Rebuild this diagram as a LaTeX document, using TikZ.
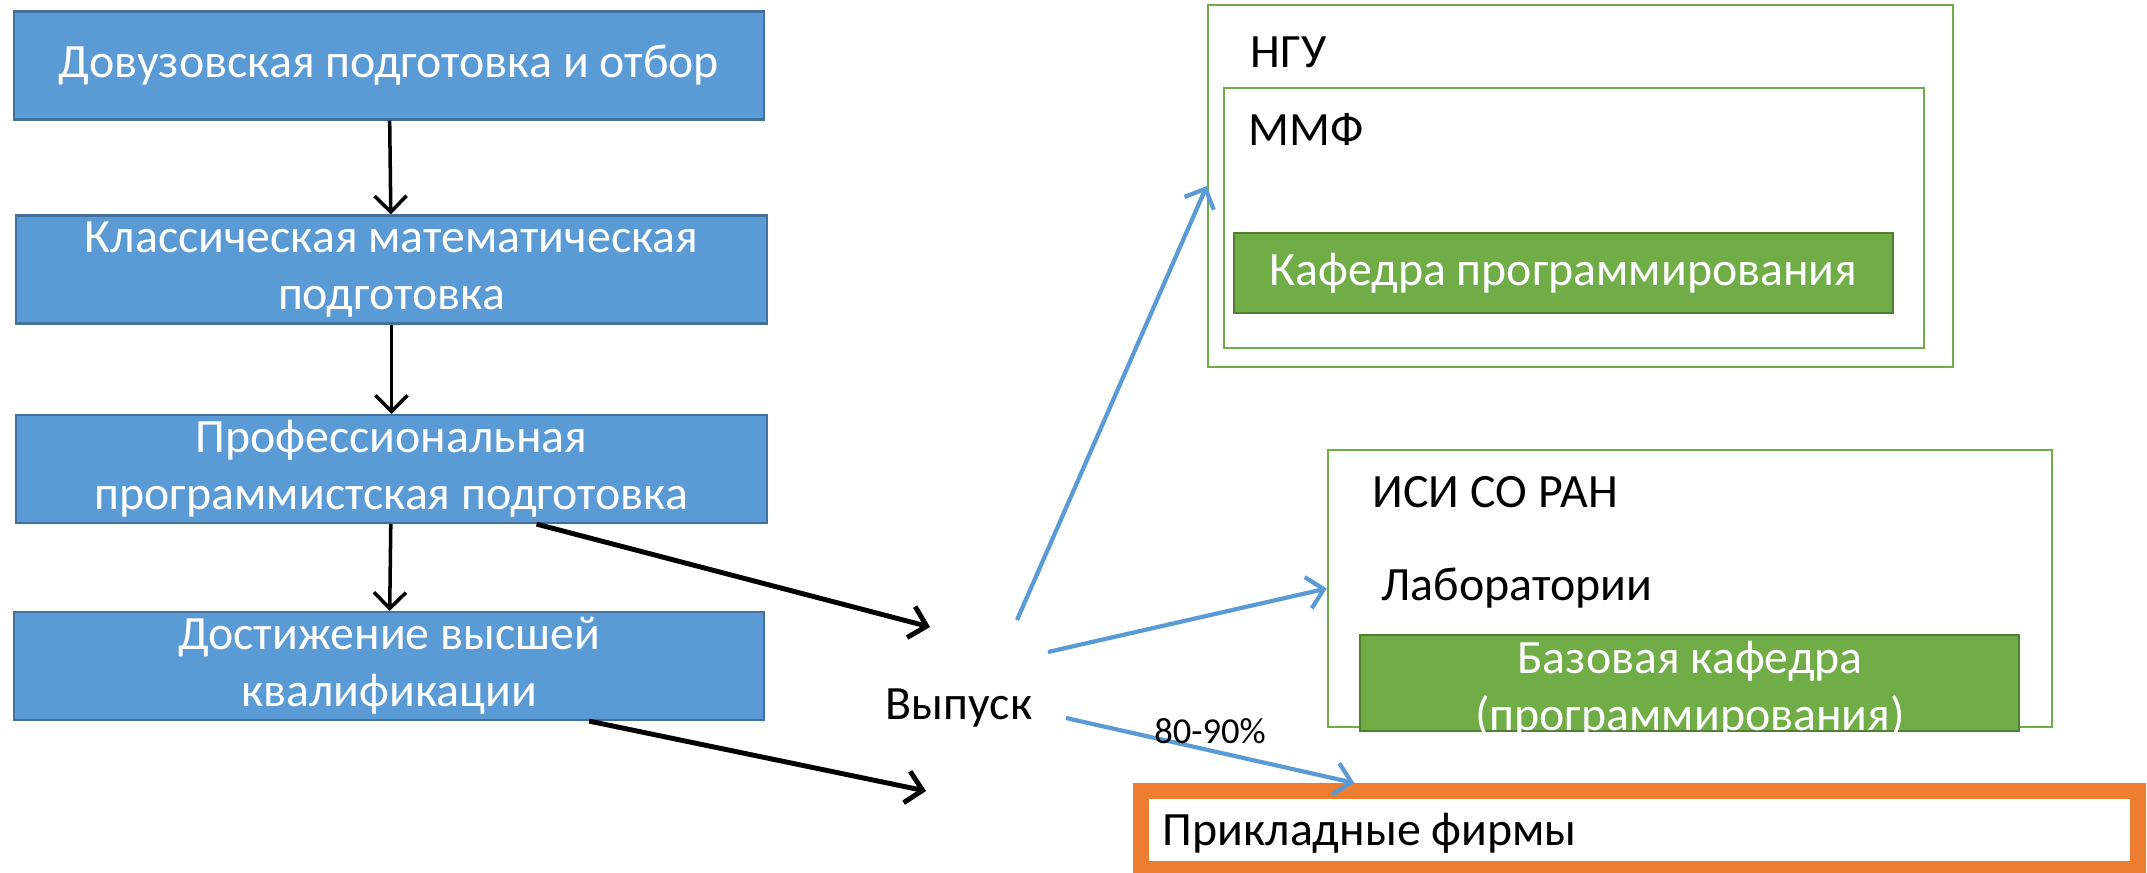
\documentclass[tikz,border=0pt]{standalone}
\usepackage{fontspec}
\setmainfont{Carlito}
\usetikzlibrary{arrows.meta}
\definecolor{boxblue}{HTML}{5B9BD5}
\definecolor{boxblueline}{HTML}{41719C}
\definecolor{boxgreen}{HTML}{70AD47}
\definecolor{boxgreenline}{HTML}{507E32}
\definecolor{firmorange}{HTML}{ED7D31}

\begin{document}
\begin{tikzpicture}[x=0.01cm,y=-0.01cm,
	every node/.style={font=\fontsize{13.6}{16.2}\selectfont},
	stage/.style={draw=boxblueline, line width=0.6pt, fill=boxblue, text=white, align=center,
		minimum width=7.5cm, minimum height=1.08cm, inner sep=0pt},
	chair/.style={draw=boxgreenline, line width=0.6pt, fill=boxgreen, text=white, align=center, inner sep=0pt},
	orgbox/.style={draw=boxgreen, line width=0.6pt, inner sep=0pt},
	tag/.style={anchor=base west, inner sep=0pt},
	flow/.style={-{Straight Barb[length=0.16cm,width=0.32cm]}, line width=1pt},
	exit/.style={flow, line width=1.4pt},
	route/.style={-{Straight Barb[length=0.16cm,width=0.32cm]}, color=boxblue, line width=1.2pt}]
	\useasboundingbox (0,0) rectangle (2147,872);
	% Stages of training
	\node[stage] (prep) at (389,65.5) {Довузовская подготовка и отбор};
	\node[stage] (math) at (391.5,269.5) {Классическая математическая\\подготовка};
	\node[stage] (prof) at (391.5,469) {Профессиональная\\программистская подготовка};
	\node[stage] (top) at (389,666) {Достижение высшей\\квалификации};
	\draw[flow] (prep) -- (math);
	\draw[flow] (math) -- (prof);
	\draw[flow] (prof) -- (top);
	% Graduation
	\node[anchor=base, inner sep=0pt] (grad) at (959,719) {Выпуск};
	\coordinate (in1) at (930,627);
	\coordinate (in2) at (926,791);
	\draw[exit] ([xshift=1.45cm]prof.south) -- (in1);
	\draw[exit] ([xshift=2cm]top.south) -- (in2);
	% University
	\node[orgbox, minimum width=7.45cm, minimum height=3.62cm] (ngu) at (1580.5,186) {};
	\node[tag] (ngulbl) at (1250,67) {НГУ};
	\node[orgbox, minimum width=7cm, minimum height=2.6cm] (mmf) at (1574,218) {};
	\node[tag] (mmflbl) at (1248,145) {ММФ};
	\node[chair, minimum width=6.59cm, minimum height=0.8cm] (kaf) at (1563.5,273) {Кафедра программирования};
	% Institute
	\node[orgbox, minimum width=7.24cm, minimum height=2.77cm] (isi) at (1690,588.5) {};
	\node[tag] (isilbl) at (1372,507) {ИСИ СО РАН};
	\node[tag] (lab) at (1381,600) {Лаборатории};
	\node[chair, minimum width=6.59cm, minimum height=0.96cm] (basechair) at (1689.5,683) {};
	\node[text=white, align=center] (basetxt) at (1690,690) {Базовая кафедра\\(программирования)};
	% Companies
	\node[draw=firmorange, line width=0.16cm, minimum width=9.97cm, minimum height=0.78cm, inner sep=0pt] (firms) at (1639.5,830) {};
	\node[tag] (firmslbl) at (1162,845) {Прикладные фирмы};
	% Routes after graduation
	\coordinate (out1) at (1017,620);
	\coordinate (out2) at (1048,652);
	\coordinate (out3) at (1066,718);
	\draw[route] (out1) -- (ngu.west);
	\draw[route] (out2) -- (isi.west);
	\draw[route] (out3) -- ([xshift=-2.85cm]firms.north);
	\node[anchor=base, inner sep=0pt, font=\fontsize{10.4}{12}\selectfont] (share) at (1210,743) {80-90\%};
\end{tikzpicture}
\end{document}
